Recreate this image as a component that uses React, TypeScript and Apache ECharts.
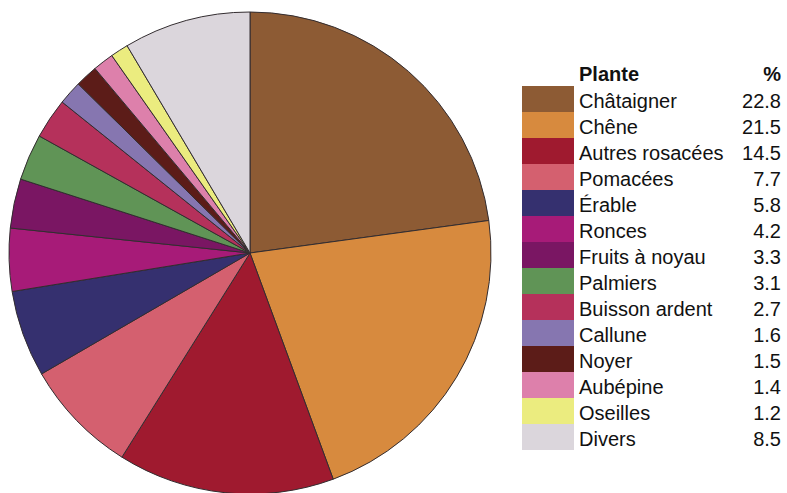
import React, { useEffect, useRef } from "react";
import * as echarts from "echarts";

const categories = [
  "Châtaigner",
  "Chêne",
  "Autres rosacées",
  "Pomacées",
  "Érable",
  "Ronces",
  "Fruits à noyau",
  "Palmiers",
  "Buisson ardent",
  "Callune",
  "Noyer",
  "Aubépine",
  "Oseilles",
  "Divers",
];
const values = [22.8, 21.5, 14.5, 7.7, 5.8, 4.2, 3.3, 3.1, 2.7, 1.6, 1.5, 1.4, 1.2, 8.5];
const colors = [
  "#8d5b34",
  "#d78a3e",
  "#9f1a2f",
  "#d4606f",
  "#35306f",
  "#a71b78",
  "#7a1663",
  "#609456",
  "#b5315b",
  "#8676b0",
  "#5c1c18",
  "#dd80ab",
  "#ebec7f",
  "#dbd6dc",
];
const headerLabel = "Plante";
const headerValue = "%";

const FONT = "'Liberation Sans', Arial, sans-serif";

export default function App() {
  const ref = useRef<HTMLDivElement>(null);
  useEffect(() => {
    if (!ref.current) return;
    const chart = echarts.init(ref.current, undefined, { renderer: "svg" });
    const data = categories.map((name, i) => ({
      name,
      value: values[i],
      itemStyle: { color: colors[i] },
    }));
    const valueOf: Record<string, number> = {};
    categories.forEach((c, i) => (valueOf[c] = values[i]));
    chart.setOption({
      animation: false,
      backgroundColor: "#ffffff",
      textStyle: { fontFamily: FONT },
      legend: {
        orient: "vertical",
        left: 522,
        top: 86,
        padding: 0,
        itemWidth: 52,
        itemHeight: 26,
        itemGap: 0,
        icon: "rect",
        selectedMode: false,
        itemStyle: { borderWidth: 0 },
        data: categories,
        formatter: (name: string) =>
          `{n|${name}}{v|${valueOf[name].toFixed(1)}}`,
        textStyle: {
          fontFamily: FONT,
          fontSize: 20,
          color: "#111",
          lineHeight: 24,
          rich: {
            n: { fontFamily: FONT, fontSize: 20, color: "#111", width: 150, lineHeight: 24, padding: [3, 0, 0, 0] },
            v: { fontFamily: FONT, fontSize: 20, color: "#111", width: 52, align: "right", lineHeight: 24, padding: [3, 0, 0, 0] },
          },
        },
      },
      graphic: [
        {
          type: "text",
          left: 579,
          top: 64,
          style: {
            text: headerLabel,
            font: `bold 20px ${FONT}`,
            fill: "#111",
          },
        },
        {
          type: "text",
          right: 6,
          top: 64,
          style: {
            text: headerValue,
            font: `bold 20px ${FONT}`,
            fill: "#111",
          },
        },
      ],
      series: [
        {
          type: "pie",
          center: [250, 253],
          radius: 241,
          startAngle: 90,
          clockwise: true,
          label: { show: false },
          labelLine: { show: false },
          emphasis: { disabled: true },
          itemStyle: { borderColor: "#332d30", borderWidth: 1 },
          data,
        },
      ],
    });
    return () => chart.dispose();
  }, []);
  return (
    <div
      ref={ref}
      style={{ position: "absolute", left: 0, top: 0, width: 787, height: 493 }}
    />
  );
}
